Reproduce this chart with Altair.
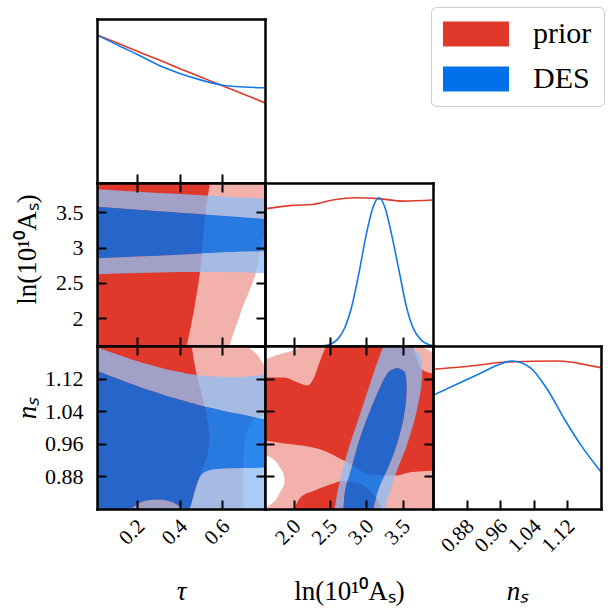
import altair as alt
import pandas as pd

FONT = "Liberation Serif"
RED = "#e0392b"
PINK = "#f2b1aa"
BLUE = "#0071e8"
BLUE_LINE = "#1278e8"
RING = "#90bef3"
CORE = "#006fea"
WHITE = "#ffffff"
W = 168
H = [164, 163, 163]
TK = 9

# ---------------- axes ranges / ticks ----------------
TAU_DOM = [0.01, 0.8]
LNAS_DOM = [1.609, 3.912]
NS_DOM = [0.8, 1.2]
PDF_DOM = [0.0, 1.1]
TAU_TICKS = [0.2, 0.4, 0.6]
LNAS_TICKS = [2.0, 2.5, 3.0, 3.5]
NS_TICKS = [0.88, 0.96, 1.04, 1.12]
SERIES = ["prior", "DES"]

# ---------------- 1D marginals ----------------
TAU_X = [0.01, 0.1, 0.2, 0.3, 0.4, 0.5, 0.6, 0.7, 0.8]
TAU_PRIOR = [0.993, 0.942, 0.884, 0.826, 0.767, 0.710, 0.653, 0.595, 0.537]
TAU_DES = [0.993, 0.930, 0.862, 0.790, 0.735, 0.690, 0.656, 0.644, 0.639]

LNAS_PX = [1.609, 1.985, 2.261, 2.537, 2.86, 3.181, 3.503, 3.912]
LNAS_PRIOR = [0.925, 0.949, 0.955, 0.985, 1.0, 0.993, 0.978, 0.985]
LNAS_DX = [1.609, 2.3, 2.4, 2.5, 2.6, 2.7, 2.8, 2.9, 3.0, 3.1, 3.17, 3.25, 3.35,
           3.45, 3.55, 3.65, 3.75, 3.85, 3.912]
LNAS_DES = [0.0, 0.0, 0.002, 0.012, 0.043, 0.12, 0.27, 0.5, 0.76, 0.95, 1.0, 0.94,
            0.74, 0.5, 0.26, 0.11, 0.04, 0.01, 0.003]

NS_PX = [0.8, 0.873, 0.977, 1.096, 1.127, 1.16, 1.2]
NS_PRIOR = [0.943, 0.960, 0.992, 0.999, 0.992, 0.975, 0.954]
NS_DX = [0.8, 0.873, 0.913, 0.953, 0.989, 1.032, 1.072, 1.111, 1.151, 1.2]
NS_DES = [0.767, 0.864, 0.916, 0.970, 0.999, 0.953, 0.808, 0.616, 0.436, 0.25]

# ---------------- panel (tau, lnAs) ----------------
A_P2_LNAS = [1.609, 2.117, 2.637, 3.063, 3.25, 3.912]
A_P2_TAU = [0.632, 0.690, 0.756, 0.784, 0.8, 0.8]
A_P1_LNAS = [1.609, 2.1, 2.64, 3.44, 3.912]
A_P1_TAU = [0.432, 0.465, 0.494, 0.518, 0.541]
A_D_TAU = [0.01, 0.2, 0.4, 0.6, 0.8]
A_D2_HI = [3.822, 3.79, 3.757, 3.723, 3.689]
A_D1_HI = [3.575, 3.535, 3.49, 3.45, 3.405]
A_D1_LO = [2.85, 2.875, 2.90, 2.93, 2.945]
A_D2_LO = [2.622, 2.64, 2.655, 2.655, 2.637]

# ---------------- panel (tau, ns) ----------------
B_P2_NS = [0.8, 0.881, 0.946, 1.004, 1.024, 1.032, 1.15, 1.156, 1.180, 1.197, 1.2]
B_P2_TAU = [0.698, 0.698, 0.701, 0.726, 0.761, 0.8, 0.8, 0.792, 0.761, 0.722, 0.715]
B_P1_NS = [0.8, 0.807, 0.881, 0.946, 0.979, 1.049, 1.128, 1.2]
B_P1_TAU = [0.44, 0.447, 0.494, 0.534, 0.538, 0.518, 0.479, 0.455]
B_TAU = [0.01, 0.134, 0.165, 0.212, 0.259, 0.291, 0.322, 0.369, 0.40, 0.42, 0.447,
         0.463, 0.482, 0.51, 0.557, 0.604, 0.683, 0.761, 0.8]
B_D2_HI = [1.197, 1.174, 1.168, 1.161, 1.154, 1.149, 1.145, 1.139, 1.136, 1.134, 1.131,
           1.130, 1.128, 1.127, 1.125, 1.124, 1.124, 1.127, 1.133]
B_D1_HI = [1.139, 1.114, 1.108, 1.099, 1.091, 1.086, 1.080, 1.073, 1.068, 1.065, 1.061,
           1.059, 1.056, 1.052, 1.047, 1.041, 1.033, 1.024, 1.020]
B_D1_LO = [0.8, 0.8, 0.801, 0.8155, 0.822, 0.823, 0.822, 0.8155, 0.806, 0.801, 0.802,
           0.832, 0.865, 0.8875, 0.897, 0.899, 0.900, 0.9005, 0.901]

# ---------------- panel (lnAs, ns) ----------------
C_P1_UP_X = [1.609, 1.869, 2.052, 2.189, 2.281, 2.349, 2.44, 2.463, 3.62, 3.665, 3.734, 3.816, 3.912]
C_P1_UP_Y = [1.123, 1.123, 1.111, 1.103, 1.123, 1.156, 1.195, 1.2, 1.2, 1.183, 1.148, 1.137, 1.133]
C_P2_LO_X = [1.609, 1.869, 2.144, 2.418, 2.647, 2.737, 2.843, 2.98, 3.185, 3.391, 3.624, 3.912]
C_P2_LO_Y = [0.968, 0.961, 0.955, 0.943, 0.923, 0.915, 0.903, 0.888, 0.883, 0.882, 0.891, 0.894]
C_LOBE_X = [2.007, 2.098, 2.281, 2.51, 2.692, 2.884, 3.048, 3.158, 3.213]
C_LOBE_Y = [0.8, 0.829, 0.845, 0.861, 0.869, 0.864, 0.844, 0.82, 0.8]
C_WTL_X = [1.609, 1.778, 1.961, 2.098, 2.144]
C_WTL_Y = [1.166, 1.178, 1.187, 1.197, 1.2]
C_WTR_X = [3.747, 3.816, 3.912]
C_WTR_Y = [1.2, 1.193, 1.183]
C_BITE_X = [1.609, 1.70, 1.77, 1.82, 1.85, 1.87, 1.876]
C_BITE_HI = [0.9325, 0.925, 0.914, 0.900, 0.892, 0.882, 0.87]
C_BITE_LO = [0.802, 0.813, 0.826, 0.843, 0.852, 0.858, 0.87]
C_NS = [0.80, 0.85, 0.90, 0.95, 1.00, 1.05, 1.10, 1.13, 1.14, 1.146]
C_IN_L = [2.685, 2.712, 2.793, 2.870, 2.961, 3.069, 3.191, 3.28, 3.33, 3.425]
C_IN_R = [3.094, 3.168, 3.293, 3.40, 3.48, 3.533, 3.55, 3.535, 3.50, 3.425]
C_OUT_L = [2.564, 2.612, 2.68, 2.757, 2.85, 2.943, 3.036, 3.092, 3.11, 3.12]
C_OUT_R = [3.25, 3.33, 3.43, 3.54, 3.63, 3.70, 3.75, 3.763, 3.764, 3.763]
C_CAP_NS = [1.146, 1.17, 1.2]
C_CAP_L = [3.12, 3.17, 3.23]
C_CAP_R = [3.763, 3.75, 3.60]


def sc(dom):
    return alt.Scale(domain=dom, nice=False, zero=False)


def frame(orient, **kw):
    base = dict(orient=orient, domain=True, domainColor="black", domainWidth=2.5,
                domainCap="square", ticks=False, tickSize=0, labels=False, grid=False,
                zindex=5, title=None)
    base.update(kw)
    return alt.Axis(**base)


def ticks(orient, values):
    return alt.Axis(orient=orient, domain=False, ticks=True, tickSize=TK, tickWidth=2,
                    tickColor="black", offset=-TK, labels=False, grid=False, values=values,
                    zindex=5, title=None)


def bottom_labels(values, fmt, title, italic=False):
    kw = dict(labels=True, values=values, format=fmt, labelFont=FONT, labelFontSize=21,
              labelColor="black", labelAngle=315, labelAlign="right", labelBaseline="top",
              labelPadding=6, labelOffset=-4, labelOverlap=False, labelFlush=False,
              title=title, titleFont=FONT, titleFontSize=27, titleFontWeight="normal",
              titleColor="black", titleY=90, titleBaseline="alphabetic")
    if italic:
        kw["titleFontStyle"] = "italic"
    return frame("bottom", **kw)


def left_labels(values, fmt, title, ty, italic=False):
    kw = dict(labels=True, values=values, format=fmt, labelFont=FONT, labelFontSize=22,
              labelColor="black", labelPadding=14, labelOverlap=False, labelFlush=False,
              title=title, titleFont=FONT, titleFontSize=27, titleFontWeight="normal",
              titleColor="black", titleX=-62, titleY=ty, titleAngle=270,
              titleAlign="center", titleBaseline="alphabetic")
    if italic:
        kw["titleFontStyle"] = "italic"
    return frame("left", **kw)


def dummy(xdom, ydom, xax, yax):
    df = pd.DataFrame({"x": [sum(xdom) / 2], "y": [sum(ydom) / 2]})
    return alt.Chart(df).mark_point(opacity=0).encode(
        x=alt.X("x:Q", scale=sc(xdom), axis=xax),
        y=alt.Y("y:Q", scale=sc(ydom), axis=yax))


def panel2d(marks, xdom, ydom, xt, yt, h, xlab=None, ylab=None):
    layers = list(marks)
    layers.append(dummy(xdom, ydom, xlab if xlab is not None else frame("bottom"),
                        ylab if ylab is not None else frame("left")))
    layers.append(dummy(xdom, ydom, ticks("bottom", xt), ticks("left", yt)))
    layers.append(dummy(xdom, ydom, frame("top"), frame("right")))
    layers.append(dummy(xdom, ydom, ticks("top", xt), ticks("right", yt)))
    return alt.layer(*layers).resolve_axis(x="independent", y="independent").properties(
        width=W, height=h)


def panel1d(marks, xdom, xt, h, xlab=None):
    layers = list(marks)
    layers.append(dummy(xdom, PDF_DOM, xlab if xlab is not None else frame("bottom"), frame("left")))
    layers.append(dummy(xdom, PDF_DOM, ticks("bottom", xt), frame("right")))
    layers.append(dummy(xdom, PDF_DOM, frame("top"), None))
    return alt.layer(*layers).resolve_axis(x="independent", y="independent").properties(
        width=W, height=h)


def blank(h):
    df = pd.DataFrame({"x": [0.0]})
    return alt.Chart(df).mark_point(opacity=0).encode(
        x=alt.X("x:Q", axis=None), y=alt.Y("x:Q", axis=None)).properties(width=W, height=h)


def vband(xs, lo, hi, xdom, ydom, color, opacity=1.0):
    if hi == "top":
        hi = [ydom[1]] * len(xs)
    elif hi == "bottom":
        hi = [ydom[0]] * len(xs)
    df = pd.DataFrame({"x": xs, "lo": lo, "hi": hi})
    return alt.Chart(df).mark_area(
        orient="vertical", color=color, opacity=opacity, clip=True,
        interpolate="monotone").encode(
        x=alt.X("x:Q", scale=sc(xdom), axis=None),
        y=alt.Y("lo:Q", scale=sc(ydom), axis=None, stack=None),
        y2=alt.Y2("hi:Q"))


def hband(ys, left, right, xdom, ydom, color, opacity=1.0):
    if left == "left":
        left = [xdom[0]] * len(ys)
    df = pd.DataFrame({"y": ys, "l": left, "r": right})
    return alt.Chart(df).mark_area(
        orient="horizontal", color=color, opacity=opacity, clip=True,
        interpolate="monotone").encode(
        y=alt.Y("y:Q", scale=sc(ydom), axis=None),
        x=alt.X("r:Q", scale=sc(xdom), axis=None, stack=None),
        x2=alt.X2("l:Q"))


def line(xs, vs, xdom, color):
    df = pd.DataFrame({"x": xs, "v": vs})
    return alt.Chart(df).mark_line(color=color, strokeWidth=1.6, clip=True,
                                   interpolate="monotone").encode(
        x=alt.X("x:Q", scale=sc(xdom), axis=None),
        y=alt.Y("v:Q", scale=sc(PDF_DOM), axis=None))


# ---------------- row 1: tau marginal + legend ----------------
leg_df = pd.DataFrame({"x": TAU_X + TAU_X, "v": TAU_PRIOR + TAU_DES,
                       "series": ["prior"] * len(TAU_X) + ["DES"] * len(TAU_X)})
legend_layer = alt.Chart(leg_df).mark_point(filled=True, opacity=0, size=1).encode(
    x=alt.X("x:Q", scale=sc(TAU_DOM), axis=None),
    y=alt.Y("v:Q", scale=sc(PDF_DOM), axis=None),
    color=alt.Color("series:N", scale=alt.Scale(domain=SERIES, range=[RED, BLUE]),
                    legend=alt.Legend(title=None, orient="none", legendX=334, legendY=-12,
                                      symbolType="M-1,-0.83H3.4V0.83H-1Z", symbolSize=900,
                                      symbolStrokeWidth=0, symbolOpacity=1,
                                      labelFont=FONT, labelFontSize=30, labelColor="black",
                                      labelOffset=60, rowPadding=15, padding=12,
                                      strokeColor="#cccccc", fillColor="white",
                                      cornerRadius=5, labelLimit=300)))

tau1d = panel1d([line(TAU_X, TAU_PRIOR, TAU_DOM, RED), line(TAU_X, TAU_DES, TAU_DOM, BLUE_LINE),
                 legend_layer], TAU_DOM, TAU_TICKS, H[0])

# ---------------- row 2 ----------------
panelA = panel2d([
    hband(A_P2_LNAS, "left", A_P2_TAU, TAU_DOM, LNAS_DOM, PINK),
    hband(A_P1_LNAS, "left", A_P1_TAU, TAU_DOM, LNAS_DOM, RED),
    vband(A_D_TAU, A_D1_HI, A_D2_HI, TAU_DOM, LNAS_DOM, RING, 0.78),
    vband(A_D_TAU, A_D1_LO, A_D1_HI, TAU_DOM, LNAS_DOM, CORE, 0.83),
    vband(A_D_TAU, A_D2_LO, A_D1_LO, TAU_DOM, LNAS_DOM, RING, 0.78),
], TAU_DOM, LNAS_DOM, TAU_TICKS, LNAS_TICKS, H[1],
    ylab=left_labels(LNAS_TICKS, "~g", "ln(10\u00b9\u2070A\u209b)", 66))

lnas1d = panel1d([line(LNAS_PX, LNAS_PRIOR, LNAS_DOM, RED),
                  line(LNAS_DX, LNAS_DES, LNAS_DOM, BLUE_LINE)], LNAS_DOM, LNAS_TICKS, H[1])

# ---------------- row 3 ----------------
panelB = panel2d([
    hband(B_P2_NS, "left", B_P2_TAU, TAU_DOM, NS_DOM, PINK),
    hband(B_P1_NS, "left", B_P1_TAU, TAU_DOM, NS_DOM, RED),
    vband(B_TAU, B_D1_HI, B_D2_HI, TAU_DOM, NS_DOM, RING, 0.78),
    vband(B_TAU, B_D1_LO, B_D1_HI, TAU_DOM, NS_DOM, CORE, 0.83),
    vband(B_TAU, B_D1_LO, "bottom", TAU_DOM, NS_DOM, RING, 0.78),
], TAU_DOM, NS_DOM, TAU_TICKS, NS_TICKS, H[2],
    xlab=bottom_labels(TAU_TICKS, ".1f", "\u03c4", italic=True),
    ylab=left_labels(NS_TICKS, ".2f", "n\u209b", 62, italic=True))

panelC = panel2d([
    vband([LNAS_DOM[0], LNAS_DOM[1]], [NS_DOM[0], NS_DOM[0]], "top", LNAS_DOM, NS_DOM, PINK),
    vband(C_P1_UP_X, C_P1_UP_Y, "bottom", LNAS_DOM, NS_DOM, RED),
    vband(C_P2_LO_X, C_P2_LO_Y, "bottom", LNAS_DOM, NS_DOM, PINK),
    vband(C_LOBE_X, C_LOBE_Y, "bottom", LNAS_DOM, NS_DOM, RED),
    vband(C_WTL_X, C_WTL_Y, "top", LNAS_DOM, NS_DOM, WHITE),
    vband(C_WTR_X, C_WTR_Y, "top", LNAS_DOM, NS_DOM, WHITE),
    vband(C_BITE_X, C_BITE_LO, C_BITE_HI, LNAS_DOM, NS_DOM, WHITE),
    hband(C_NS, C_OUT_L, C_IN_L, LNAS_DOM, NS_DOM, RING, 0.78),
    hband(C_NS, C_IN_R, C_OUT_R, LNAS_DOM, NS_DOM, RING, 0.78),
    hband(C_CAP_NS, C_CAP_L, C_CAP_R, LNAS_DOM, NS_DOM, RING, 0.78),
    hband(C_NS, C_IN_L, C_IN_R, LNAS_DOM, NS_DOM, CORE, 0.83),
], LNAS_DOM, NS_DOM, LNAS_TICKS, NS_TICKS, H[2],
    xlab=bottom_labels(LNAS_TICKS, ".1f", "ln(10\u00b9\u2070A\u209b)"))

ns1d = panel1d([line(NS_PX, NS_PRIOR, NS_DOM, RED), line(NS_DX, NS_DES, NS_DOM, BLUE_LINE)],
               NS_DOM, NS_TICKS, H[2],
               xlab=bottom_labels(NS_TICKS, ".2f", "n\u209b", italic=True))

chart = alt.concat(
    tau1d, blank(H[0]), blank(H[0]),
    panelA, lnas1d, blank(H[1]),
    panelB, panelC, ns1d,
    columns=3, spacing=0, bounds="flush",
).properties(
    padding={"left": 13, "top": 6, "right": 2, "bottom": 2},
    background="white",
).configure_view(stroke=None)

chart.save("out.html", embed_options={"renderer": "svg", "actions": False})
